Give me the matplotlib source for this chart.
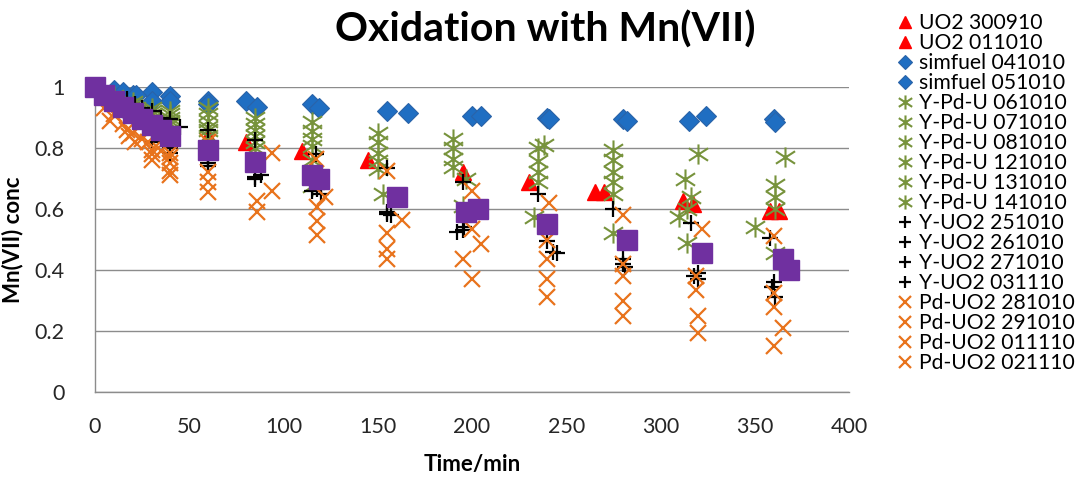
import matplotlib
matplotlib.use("Agg")
import matplotlib.pyplot as plt
from matplotlib.ticker import FixedLocator
from matplotlib.path import Path

plt.rcParams['font.family'] = ['Lato', 'DejaVu Sans']

# ---------------- data ----------------
title = "Oxidation with Mn(VII)"
x_label = "Time/min"
y_label = "Mn(VII) conc"
x_ticks = [0, 50, 100, 150, 200, 250, 300, 350, 400]
y_ticks = [0, 0.2, 0.4, 0.6, 0.8, 1.0]
y_tick_labels = ["0", "0.2", "0.4", "0.6", "0.8", "1"]

# UO2 (red triangles)
uo2_300910_t = [0, 60, 80, 110, 145, 195, 230, 265, 312, 358]
uo2_300910_v = [1.0, 0.84, 0.82, 0.79, 0.76, 0.72, 0.69, 0.655, 0.625, 0.595]
uo2_011010_t = [0, 30, 60, 270, 317, 363]
uo2_011010_v = [1.0, 0.90, 0.83, 0.655, 0.615, 0.595]

# simfuel (blue diamonds)
sim_041010_t = [0, 10, 20, 30, 40, 60, 80, 115, 155, 200, 240, 280, 315, 360]
sim_041010_v = [1.0, 0.99, 0.975, 0.985, 0.97, 0.955, 0.955, 0.945, 0.92, 0.905, 0.90, 0.895, 0.89, 0.895]
sim_051010_t = [0, 15, 22, 30, 40, 60, 86, 119, 166, 205, 241, 282, 324, 361]
sim_051010_v = [1.0, 0.985, 0.975, 0.955, 0.955, 0.945, 0.935, 0.93, 0.915, 0.905, 0.895, 0.89, 0.905, 0.885]

# Y-Pd-U (green asterisks)
ypdu_061010_t = [0, 10, 20, 30, 40, 60, 85, 115, 150, 190, 238, 275, 320, 366]
ypdu_061010_v = [1.0, 0.97, 0.95, 0.93, 0.92, 0.93, 0.90, 0.885, 0.85, 0.83, 0.81, 0.795, 0.78, 0.77]
ypdu_071010_t = [0, 10, 20, 30, 40, 60, 85, 115, 150, 190, 235, 275, 313, 361]
ypdu_071010_v = [1.0, 0.96, 0.94, 0.92, 0.91, 0.91, 0.88, 0.855, 0.82, 0.80, 0.80, 0.76, 0.70, 0.68]
ypdu_081010_t = [0, 12, 22, 30, 40, 60, 85, 115, 150, 190, 235, 275, 316, 361]
ypdu_081010_v = [1.0, 0.95, 0.93, 0.91, 0.90, 0.89, 0.86, 0.83, 0.785, 0.763, 0.757, 0.72, 0.64, 0.64]
ypdu_121010_t = [0, 12, 22, 30, 40, 60, 85, 115, 150, 190, 235, 275, 314, 361]
ypdu_121010_v = [1.0, 0.95, 0.92, 0.90, 0.89, 0.87, 0.84, 0.805, 0.757, 0.737, 0.72, 0.69, 0.60, 0.60]
ypdu_131010_t = [0, 15, 25, 30, 40, 60, 85, 115, 150, 197, 235, 275, 310, 350]
ypdu_131010_v = [1.0, 0.94, 0.91, 0.89, 0.88, 0.86, 0.82, 0.76, 0.73, 0.70, 0.69, 0.65, 0.575, 0.54]
ypdu_141010_t = [0, 15, 25, 30, 40, 60, 85, 115, 153, 195, 233, 275, 314, 361]
ypdu_141010_v = [1.0, 0.93, 0.90, 0.88, 0.86, 0.84, 0.80, 0.675, 0.65, 0.61, 0.575, 0.52, 0.49, 0.455]

# Y-UO2 (black plus)
yuo2_251010_t = [0, 30, 40, 60, 85, 117, 155, 195, 235, 275, 316, 358]
yuo2_251010_v = [1.0, 0.92, 0.895, 0.86, 0.825, 0.78, 0.735, 0.69, 0.65, 0.60, 0.555, 0.505]
yuo2_261010_t = [0, 17, 30, 40, 60, 85, 115, 155, 192, 240, 280, 320, 359]
yuo2_261010_v = [1.0, 0.96, 0.82, 0.785, 0.74, 0.705, 0.66, 0.59, 0.525, 0.495, 0.435, 0.39, 0.345]
yuo2_271010_t = [0, 21, 30, 40, 60, 85, 120, 157, 196, 243, 281, 320, 361]
yuo2_271010_v = [1.0, 0.945, 0.88, 0.80, 0.75, 0.70, 0.65, 0.58, 0.54, 0.46, 0.41, 0.37, 0.31]
yuo2_031110_t = [0, 25, 35, 45, 60, 88, 118, 155, 195, 245, 280, 318, 360]
yuo2_031110_v = [1.0, 0.93, 0.90, 0.87, 0.78, 0.71, 0.665, 0.585, 0.53, 0.455, 0.42, 0.38, 0.36]

# Pd-UO2 (orange x)
pduo2_281010_t = [0, 5, 17, 30, 40, 60, 94, 117, 155, 200, 241, 280, 322, 360]
pduo2_281010_v = [1.0, 0.93, 0.86, 0.795, 0.785, 0.82, 0.785, 0.765, 0.725, 0.66, 0.62, 0.58, 0.535, 0.51]
pduo2_291010_t = [0, 8, 18, 30, 40, 60, 94, 122, 163, 200, 240, 280, 319, 360]
pduo2_291010_v = [1.0, 0.89, 0.84, 0.76, 0.77, 0.72, 0.66, 0.64, 0.565, 0.535, 0.50, 0.42, 0.38, 0.325]
pduo2_011110_t = [0, 10, 21, 28, 40, 60, 86, 118, 155, 205, 240, 280, 319, 360]
pduo2_011110_v = [1.0, 0.91, 0.82, 0.82, 0.75, 0.69, 0.625, 0.605, 0.52, 0.485, 0.435, 0.38, 0.335, 0.28]
pduo2_021110_t = [0, 15, 25, 35, 40, 60, 86, 118, 155, 195, 240, 280, 320, 365]
pduo2_021110_v = [1.0, 0.88, 0.83, 0.79, 0.725, 0.655, 0.59, 0.56, 0.47, 0.435, 0.37, 0.30, 0.25, 0.21]
pduo2_extra_t = [0, 20, 30, 40, 118, 155, 200, 240, 280, 320, 360]
pduo2_extra_v = [1.0, 0.85, 0.78, 0.71, 0.515, 0.435, 0.37, 0.31, 0.25, 0.195, 0.15]

# average (purple squares)
avg_t = [0, 5, 10, 15, 20, 25, 30, 35, 40, 60, 85, 115, 119, 160, 197, 203, 240, 282, 322, 365, 368]
avg_v = [1.0, 0.975, 0.955, 0.935, 0.915, 0.895, 0.875, 0.86, 0.84, 0.795, 0.755, 0.71, 0.70, 0.64, 0.59, 0.60, 0.55, 0.50, 0.455, 0.435, 0.40]

# ---------------- styles ----------------
RED = "#FF0000"
BLUE = "#1F6EC2"
GREEN = "#77933C"
BLACK = "#000000"
ORANGE = "#E8731C"
PURPLE = "#7030A0"

# Excel-style star: vertical bar plus a wide X
star = Path([(0, -1), (0, 1), (-0.95, -0.62), (0.95, 0.62), (-0.95, 0.62), (0.95, -0.62)],
            [Path.MOVETO, Path.LINETO, Path.MOVETO, Path.LINETO, Path.MOVETO, Path.LINETO])

series = [
    ("UO2 300910", uo2_300910_t, uo2_300910_v, dict(marker="^", ms=11.5, color=RED, mec=RED)),
    ("UO2 011010", uo2_011010_t, uo2_011010_v, dict(marker="^", ms=11.5, color=RED, mec=RED)),
    ("simfuel 041010", sim_041010_t, sim_041010_v, dict(marker="D", ms=10, color=BLUE, mec="#2A63A8", mew=0.8)),
    ("simfuel 051010", sim_051010_t, sim_051010_v, dict(marker="D", ms=10, color=BLUE, mec="#2A63A8", mew=0.8)),
]
for lab, t, v in [("Y-Pd-U 061010", ypdu_061010_t, ypdu_061010_v),
                  ("Y-Pd-U 071010", ypdu_071010_t, ypdu_071010_v),
                  ("Y-Pd-U 081010", ypdu_081010_t, ypdu_081010_v),
                  ("Y-Pd-U 121010", ypdu_121010_t, ypdu_121010_v),
                  ("Y-Pd-U 131010", ypdu_131010_t, ypdu_131010_v),
                  ("Y-Pd-U 141010", ypdu_141010_t, ypdu_141010_v)]:
    series.append((lab, t, v, dict(marker=star, ms=14.5, color=GREEN, mec=GREEN, mew=1.5)))
for lab, t, v in [("Y-UO2 251010", yuo2_251010_t, yuo2_251010_v),
                  ("Y-UO2 261010", yuo2_261010_t, yuo2_261010_v),
                  ("Y-UO2 271010", yuo2_271010_t, yuo2_271010_v),
                  ("Y-UO2 031110", yuo2_031110_t, yuo2_031110_v)]:
    series.append((lab, t, v, dict(marker="+", ms=12, color=BLACK, mec=BLACK, mew=1.6)))
for lab, t, v in [("Pd-UO2 281010", pduo2_281010_t, pduo2_281010_v),
                  ("Pd-UO2 291010", pduo2_291010_t, pduo2_291010_v),
                  ("Pd-UO2 011110", pduo2_011110_t, pduo2_011110_v),
                  ("Pd-UO2 021110", pduo2_021110_t, pduo2_021110_v),
                  ("_nolegend_", pduo2_extra_t, pduo2_extra_v)]:
    series.append((lab, t, v, dict(marker="x", ms=12, color=ORANGE, mec=ORANGE, mew=1.6)))
series.append(("_nolegend_", avg_t, avg_v, dict(marker="s", ms=14, color=PURPLE, mec=PURPLE, mew=1.0)))

# ---------------- plot ----------------
fig = plt.figure(figsize=(10.84, 4.88), dpi=100)
ax = fig.add_axes([95 / 1084, 1 - 392 / 488, (849 - 95) / 1084, (392 - 87) / 488])

for lab, t, v, st in series:
    ax.plot(t, v, linestyle="none", label=lab, clip_on=False, zorder=3, **st)

ax.set_xlim(0, 400)
ax.set_ylim(0, 1)
ax.xaxis.set_major_locator(FixedLocator(x_ticks))
ax.set_yticks(y_ticks)
ax.set_yticklabels(y_tick_labels)
ax.grid(axis="y", color="#8C8C8C", linewidth=1.0, zorder=0)
ax.set_axisbelow(True)
for s in ["top", "right"]:
    ax.spines[s].set_visible(False)
for s in ["left", "bottom"]:
    ax.spines[s].set_color("#8C8C8C")
    ax.spines[s].set_linewidth(1.0)
ax.tick_params(axis="both", length=0, labelsize=15.5, labelcolor="#262626")
ax.tick_params(axis="x", pad=18)
ax.tick_params(axis="y", pad=22)

ax.set_xlabel(x_label, fontsize=16, fontweight="bold", labelpad=12)
ax.set_ylabel(y_label, fontsize=16, fontweight="bold")
ax.yaxis.set_label_coords((23 - 95) / 754, 0.5)
fig.text(545 / 1084, 1 - 30 / 488, title, fontsize=29.5, fontweight="bold", ha="center", va="center")

handles, labels = ax.get_legend_handles_labels()
fig.legend(handles, labels, loc="upper left", bbox_to_anchor=(897 / 1084, 1 - 13 / 488),
           frameon=False, fontsize=15.2, labelspacing=0.0, handlelength=0.8,
           handletextpad=0.25, borderpad=0, borderaxespad=0, markerscale=0.7)

fig.savefig("out.png", dpi=100)
